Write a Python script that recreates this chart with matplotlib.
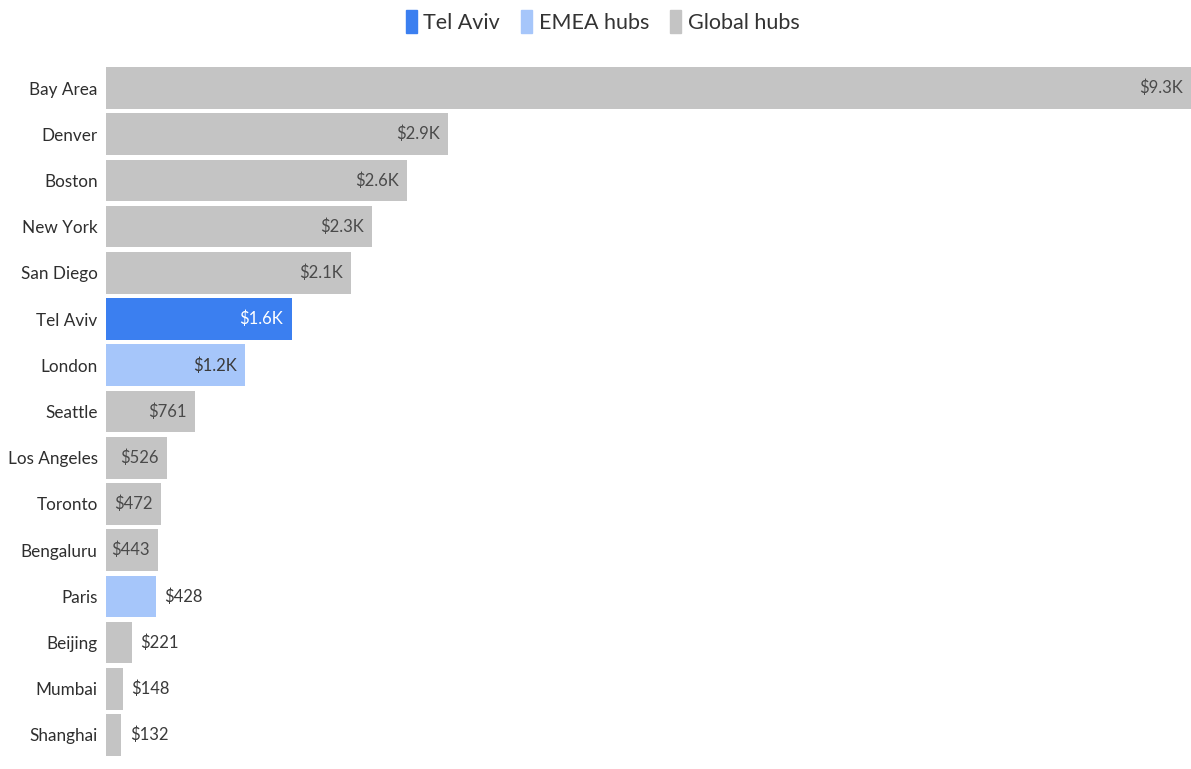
import matplotlib
matplotlib.use("Agg")
import matplotlib.pyplot as plt
from matplotlib.patches import Patch

plt.rcParams['font.family'] = ['Lato', 'DejaVu Sans']

cities = ["Bay Area", "Denver", "Boston", "New York", "San Diego", "Tel Aviv",
          "London", "Seattle", "Los Angeles", "Toronto", "Bengaluru", "Paris",
          "Beijing", "Mumbai", "Shanghai"]
values = [9300, 2930, 2580, 2280, 2100, 1590, 1190, 761, 526, 472, 443, 428,
          221, 148, 132]
groups = ["Global", "Global", "Global", "Global", "Global", "Tel Aviv",
          "EMEA", "Global", "Global", "Global", "Global", "EMEA",
          "Global", "Global", "Global"]

colors = {"Tel Aviv": "#3b7ff0", "EMEA": "#a6c6fa", "Global": "#c4c4c4"}
text_colors = {"Tel Aviv": "white", "EMEA": "#3a3a3a", "Global": "#4a4a4a"}


def fmt(v):
    return f"${v/1000:.1f}K" if v >= 1000 else f"${v}"


fig = plt.figure(figsize=(11.91, 7.69), dpi=100)
ax = fig.add_axes([106 / 1191, 0, 1 - 106 / 1191, 0.9156])

ypos = list(range(len(cities)))
ax.barh(ypos, values, height=0.9, color=[colors[g] for g in groups])
ax.set_xlim(0, 9300)
ax.set_ylim(14.736, -0.5)
ax.set_yticks(ypos)
ax.set_yticklabels(cities, fontsize=12.3, color="#2e2e2e")
ax.tick_params(axis="y", length=0, pad=6)
ax.set_xticks([])
for s in ax.spines.values():
    s.set_visible(False)

for y, v, g in zip(ypos, values, groups):
    if v >= 440:
        ax.annotate(fmt(v), (v, y), xytext=(-6, 0), textcoords="offset points",
                    ha="right", va="center", fontsize=12, color=text_colors[g])
    else:
        ax.annotate(fmt(v), (v, y), xytext=(6, 0), textcoords="offset points",
                    ha="left", va="center", fontsize=12, color="#3a3a3a")

handles = [Patch(color=colors["Tel Aviv"], label="Tel Aviv"),
           Patch(color=colors["EMEA"], label="EMEA hubs"),
           Patch(color=colors["Global"], label="Global hubs")]
fig.legend(handles=handles, loc="center", bbox_to_anchor=(0.506, 0.972), ncol=3,
           frameon=False, fontsize=15.5, handlelength=0.5, handleheight=1.3,
           handletextpad=0.3, columnspacing=1.0, labelcolor="#333333")

fig.savefig("out.png", dpi=100)
